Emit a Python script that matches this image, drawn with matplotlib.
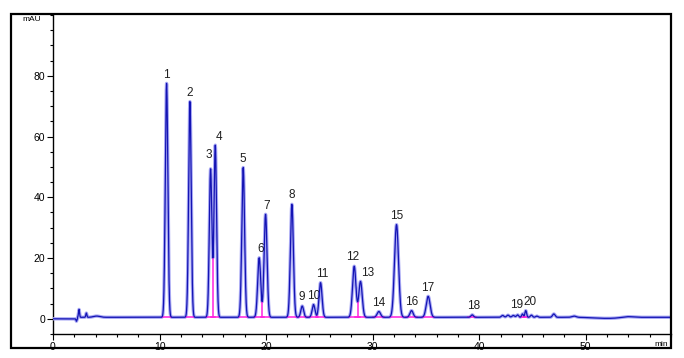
import numpy as np
import matplotlib
matplotlib.use("Agg")
import matplotlib.pyplot as plt
from matplotlib.patches import Rectangle
from matplotlib.ticker import MultipleLocator

plt.rcParams['font.family'] = ['Liberation Sans', 'DejaVu Sans']

# ---- data ----
peak_labels = ["1", "2", "3", "4", "5", "6", "7", "8", "9", "10",
               "11", "12", "13", "14", "15", "16", "17", "18", "19", "20"]
peak_times = [10.66, 12.85, 14.79, 15.23, 17.85, 19.35, 19.95, 22.42, 23.39, 24.45,
              25.11, 28.27, 28.86, 30.58, 32.24, 33.65, 35.21, 39.34, 44.06, 44.37]
peak_heights = [77.5, 71.5, 49.3, 57.1, 49.8, 20.1, 34.4, 37.7, 4.2, 4.7,
                11.9, 17.3, 12.3, 2.4, 31.0, 2.7, 7.4, 1.3, 1.6, 2.7]
peak_sigmas = [0.12, 0.12, 0.12, 0.12, 0.13, 0.14, 0.14, 0.14, 0.13, 0.13,
               0.14, 0.16, 0.16, 0.16, 0.19, 0.15, 0.18, 0.12, 0.08, 0.08]
# label offsets in points (dx, dy)
label_dx = [0, 0, -1, 3, 0, 1, 1, 0, 0, 0, 1, -1, 5, 0, 0, 0, 0, 1, -4, 3]
label_dy = [2, 2, 6, 2, 2, 2, 2, 2, 2, 2, 2, 2, 2, 2, 2, 2, 2, 2, 2, 2]

# small unlabeled features (time, amplitude, sigma)
minor_times = [2.20, 2.44, 3.13, 4.10, 42.2, 42.7, 43.2, 43.6, 44.9, 45.4, 47.0, 48.9, 52.0, 53.9]
minor_amps = [-0.8, 2.6, 1.4, 0.4, 0.6, 0.7, 0.6, 0.8, 0.7, 0.4, 1.1, 0.4, -0.35, 0.3]
minor_sigmas = [0.04, 0.05, 0.05, 0.3, 0.12, 0.12, 0.12, 0.1, 0.1, 0.1, 0.12, 0.2, 1.2, 0.5]

baseline_start = 2.3
baseline_level = 0.5

x_ticks = [0, 10, 20, 30, 40, 50]
y_ticks = [0, 20, 40, 60, 80]

# ---- build trace ----
t = np.arange(0, 58.2, 0.005)
base = np.where(t > baseline_start, baseline_level, 0.0)
sig = base.copy()
for tm, a, s in zip(minor_times, minor_amps, minor_sigmas):
    sig += a * np.exp(-(t - tm) ** 2 / (2 * s ** 2))
for tm, h, s in zip(peak_times, peak_heights, peak_sigmas):
    sig += (h - baseline_level) * np.exp(-(t - tm) ** 2 / (2 * s ** 2))

W, H = 684, 358
fig = plt.figure(figsize=(W / 100, H / 100), dpi=100)
fig.patches.append(Rectangle((11 / W, 1 - 348 / H), (671 - 11) / W, (348 - 14) / H,
                             transform=fig.transFigure, fill=False, lw=1.6,
                             edgecolor='black', zorder=10))
ax = fig.add_axes([53 / W, 1 - 334 / H, (671 - 53) / W, (334 - 15) / H])

ax.plot(t, sig, color='#a8a8f4', lw=2.4, zorder=3, solid_joinstyle='round')

# integration baselines (magenta)
for tm, s in zip(peak_times, peak_sigmas):
    ax.plot([tm - 3.2 * s, tm + 3.2 * s], [baseline_level, baseline_level],
            color='#ff22dd', lw=1.1, zorder=3.5)
# drop lines at valleys of merged pairs
for i, j in [(2, 3), (5, 6), (9, 10), (11, 12), (18, 19)]:
    m = (t > peak_times[i]) & (t < peak_times[j])
    k = np.argmin(sig[m])
    ax.plot([t[m][k], t[m][k]], [baseline_level, sig[m][k]], color='#ff22dd', lw=1.1, zorder=3.5)

ax.plot(t, sig, color='#1414b4', lw=0.9, zorder=4)

for lab, tm, h, dx, dy in zip(peak_labels, peak_times, peak_heights, label_dx, label_dy):
    ax.annotate(lab, (tm, h), xytext=(dx, dy), textcoords='offset points',
                ha='center', va='bottom', fontsize=8.5, color='#202020')

ax.set_xlim(0, 58)
ax.set_ylim(-5, 100)
for s in ['top', 'right']:
    ax.spines[s].set_visible(False)
ax.spines['left'].set_linewidth(1.0)
ax.spines['bottom'].set_linewidth(1.0)
ax.set_xticks(x_ticks)
ax.set_yticks(y_ticks)
ax.xaxis.set_minor_locator(MultipleLocator(2))
ax.yaxis.set_minor_locator(MultipleLocator(5))
ax.tick_params(axis='both', which='major', length=4, width=0.8, labelsize=7.5, pad=1.5)
ax.tick_params(axis='both', which='minor', length=2.5, width=0.8)
ax.text(-0.035, 0.985, "mAU", transform=ax.transAxes, fontsize=6, ha='center', va='center')
ax.text(0.995, -0.032, "min", transform=ax.transAxes, fontsize=6, ha='right', va='center')

fig.savefig("out.png", dpi=100)
